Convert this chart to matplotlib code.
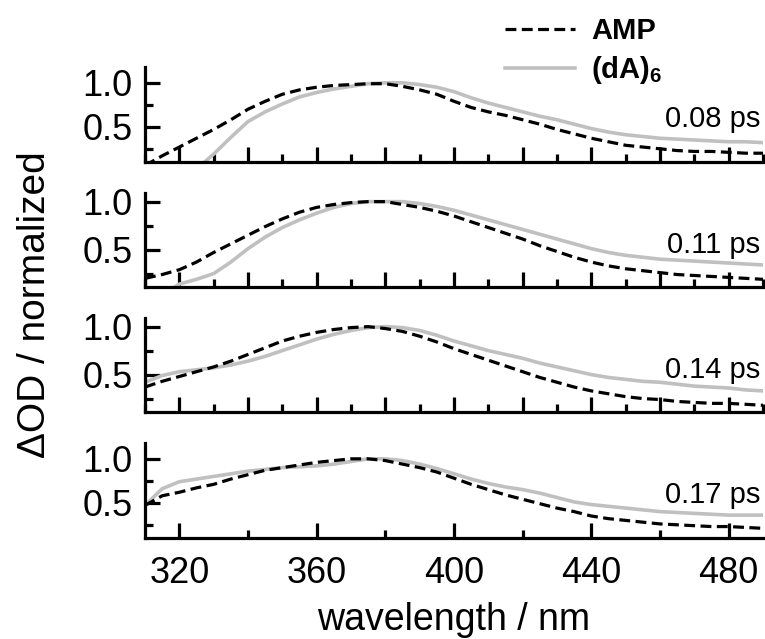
import matplotlib
matplotlib.use("Agg")
import matplotlib.pyplot as plt
from matplotlib.ticker import MultipleLocator, FixedLocator
import numpy as np

plt.rcParams['font.family'] = ['Liberation Sans', 'DejaVu Sans']
plt.rcParams['mathtext.fontset'] = 'custom'
plt.rcParams['mathtext.rm'] = 'Liberation Sans'
plt.rcParams['mathtext.bf'] = 'Liberation Sans:bold'

wavelength = list(range(310, 491, 5))

delays = ["0.08 ps", "0.11 ps", "0.14 ps", "0.17 ps"]

amp_008 = [0.06, 0.17, 0.27, 0.37, 0.47, 0.58, 0.70, 0.79, 0.87, 0.92, 0.95, 0.97, 0.98, 0.99, 0.99,
           0.96, 0.92, 0.87, 0.79, 0.72, 0.67, 0.63, 0.58, 0.53, 0.47, 0.42, 0.37, 0.33, 0.29, 0.27,
           0.25, 0.23, 0.22, 0.22, 0.21, 0.20, 0.20]
da6_008 = [-0.30, -0.20, -0.10, 0.02, 0.19, 0.38, 0.56, 0.67, 0.76, 0.84, 0.89, 0.93, 0.96, 0.99, 1.00,
           1.00, 0.98, 0.95, 0.90, 0.83, 0.77, 0.72, 0.67, 0.62, 0.58, 0.53, 0.48, 0.44, 0.41, 0.39,
           0.37, 0.36, 0.35, 0.34, 0.33, 0.33, 0.32]

amp_011 = [0.20, 0.24, 0.29, 0.37, 0.47, 0.56, 0.65, 0.74, 0.82, 0.89, 0.94, 0.97, 0.99, 1.00, 1.00,
           0.97, 0.94, 0.90, 0.85, 0.79, 0.73, 0.67, 0.61, 0.54, 0.48, 0.42, 0.37, 0.33, 0.30, 0.28,
           0.26, 0.24, 0.23, 0.22, 0.21, 0.20, 0.19]
da6_011 = [-0.10, 0.03, 0.14, 0.19, 0.25, 0.37, 0.51, 0.63, 0.73, 0.81, 0.88, 0.94, 0.98, 1.00, 1.00,
           1.00, 0.98, 0.95, 0.91, 0.86, 0.81, 0.76, 0.71, 0.66, 0.61, 0.56, 0.51, 0.47, 0.44, 0.42,
           0.40, 0.39, 0.38, 0.37, 0.36, 0.35, 0.34]

amp_014 = [0.37, 0.43, 0.48, 0.53, 0.58, 0.64, 0.71, 0.78, 0.85, 0.90, 0.94, 0.97, 0.99, 1.00, 0.98,
           0.95, 0.90, 0.84, 0.77, 0.71, 0.65, 0.59, 0.53, 0.47, 0.42, 0.37, 0.33, 0.30, 0.27, 0.25,
           0.24, 0.22, 0.21, 0.20, 0.20, 0.19, 0.18]
da6_014 = [0.42, 0.49, 0.53, 0.55, 0.57, 0.60, 0.64, 0.69, 0.75, 0.81, 0.87, 0.92, 0.96, 0.99, 1.00,
           0.99, 0.96, 0.91, 0.85, 0.80, 0.75, 0.71, 0.67, 0.62, 0.58, 0.54, 0.50, 0.47, 0.45, 0.43,
           0.42, 0.40, 0.38, 0.37, 0.36, 0.34, 0.33]

amp_017 = [0.47, 0.58, 0.62, 0.67, 0.71, 0.77, 0.82, 0.87, 0.90, 0.93, 0.96, 0.98, 1.00, 1.00, 0.98,
           0.94, 0.90, 0.85, 0.78, 0.71, 0.65, 0.59, 0.54, 0.49, 0.44, 0.40, 0.35, 0.32, 0.30, 0.28,
           0.26, 0.25, 0.24, 0.23, 0.23, 0.22, 0.21]
da6_017 = [0.47, 0.66, 0.74, 0.77, 0.80, 0.83, 0.86, 0.88, 0.90, 0.91, 0.92, 0.94, 0.97, 1.00, 1.00,
           0.98, 0.94, 0.89, 0.83, 0.77, 0.72, 0.68, 0.65, 0.61, 0.56, 0.51, 0.48, 0.46, 0.44, 0.42,
           0.40, 0.39, 0.38, 0.37, 0.36, 0.36, 0.36]

amp_series = [amp_008, amp_011, amp_014, amp_017]
da6_series = [da6_008, da6_011, da6_014, da6_017]

W, H = 765, 639
fig = plt.figure(figsize=(W / 100, H / 100), dpi=100)

# panel boxes in pixels: (top, bottom)
panels_px = [(67, 162), (193, 287), (318, 412), (443, 538)]
ylims = [(0.10, 1.18), (0.11, 1.09), (0.11, 1.09), (0.10, 1.18)]
left_px, right_px = 145, 763

gray = '#c0c0c0'
lw_ax = 2.3
axes = []
for i, ((t, b), yl) in enumerate(zip(panels_px, ylims)):
    ax = fig.add_axes([left_px / W, (H - b) / H, (right_px - left_px) / W, (b - t) / H])
    axes.append(ax)
    l1, = ax.plot(wavelength, amp_series[i], color='black', lw=2.3, dashes=(3.4, 1.7), zorder=3)
    l2, = ax.plot(wavelength, da6_series[i], color=gray, lw=2.6, zorder=2)
    if i == 0:
        handles = [l1, l2]
    ax.set_xlim(310, 490)
    ax.set_ylim(*yl)
    for s in ['top', 'right']:
        ax.spines[s].set_visible(False)
    for s in ['left', 'bottom']:
        ax.spines[s].set_linewidth(lw_ax)
    ax.yaxis.set_major_locator(FixedLocator([0.5, 1.0]))
    ax.yaxis.set_minor_locator(FixedLocator([0.25, 0.75]))
    ax.set_yticklabels(['0.5', '1.0'])
    if i < 3:
        ax.xaxis.set_major_locator(MultipleLocator(20))
        ax.xaxis.set_minor_locator(MultipleLocator(10))
        ax.tick_params(axis='x', labelbottom=False)
    else:
        ax.xaxis.set_major_locator(MultipleLocator(40))
        ax.xaxis.set_minor_locator(MultipleLocator(20))
    ax.tick_params(which='major', direction='in', length=11, width=lw_ax, labelsize=26, pad=9)
    ax.tick_params(which='minor', direction='in', length=5.5, width=lw_ax)
    ax.tick_params(axis='x', which='major', pad=13)
    ax.text(0.995, 0.45, delays[i], transform=ax.transAxes, ha='right', va='center', fontsize=21)

axes[3].set_xlabel('wavelength / nm', fontsize=27, labelpad=8)
fig.text(35 / W, 1 - 305 / H, 'ΔOD / normalized', rotation=90, ha='center', va='center', fontsize=28)

fig.legend(handles, ['AMP', r'$\mathbf{(dA)_6}$'], loc='upper left',
           bbox_to_anchor=(505 / W, 1 - 17 / H), frameon=False, borderpad=0, borderaxespad=0,
           handlelength=2.4, handletextpad=0.55, labelspacing=0.3,
           prop={'size': 21, 'weight': 'bold'})

fig.savefig('out.png', dpi=100)
